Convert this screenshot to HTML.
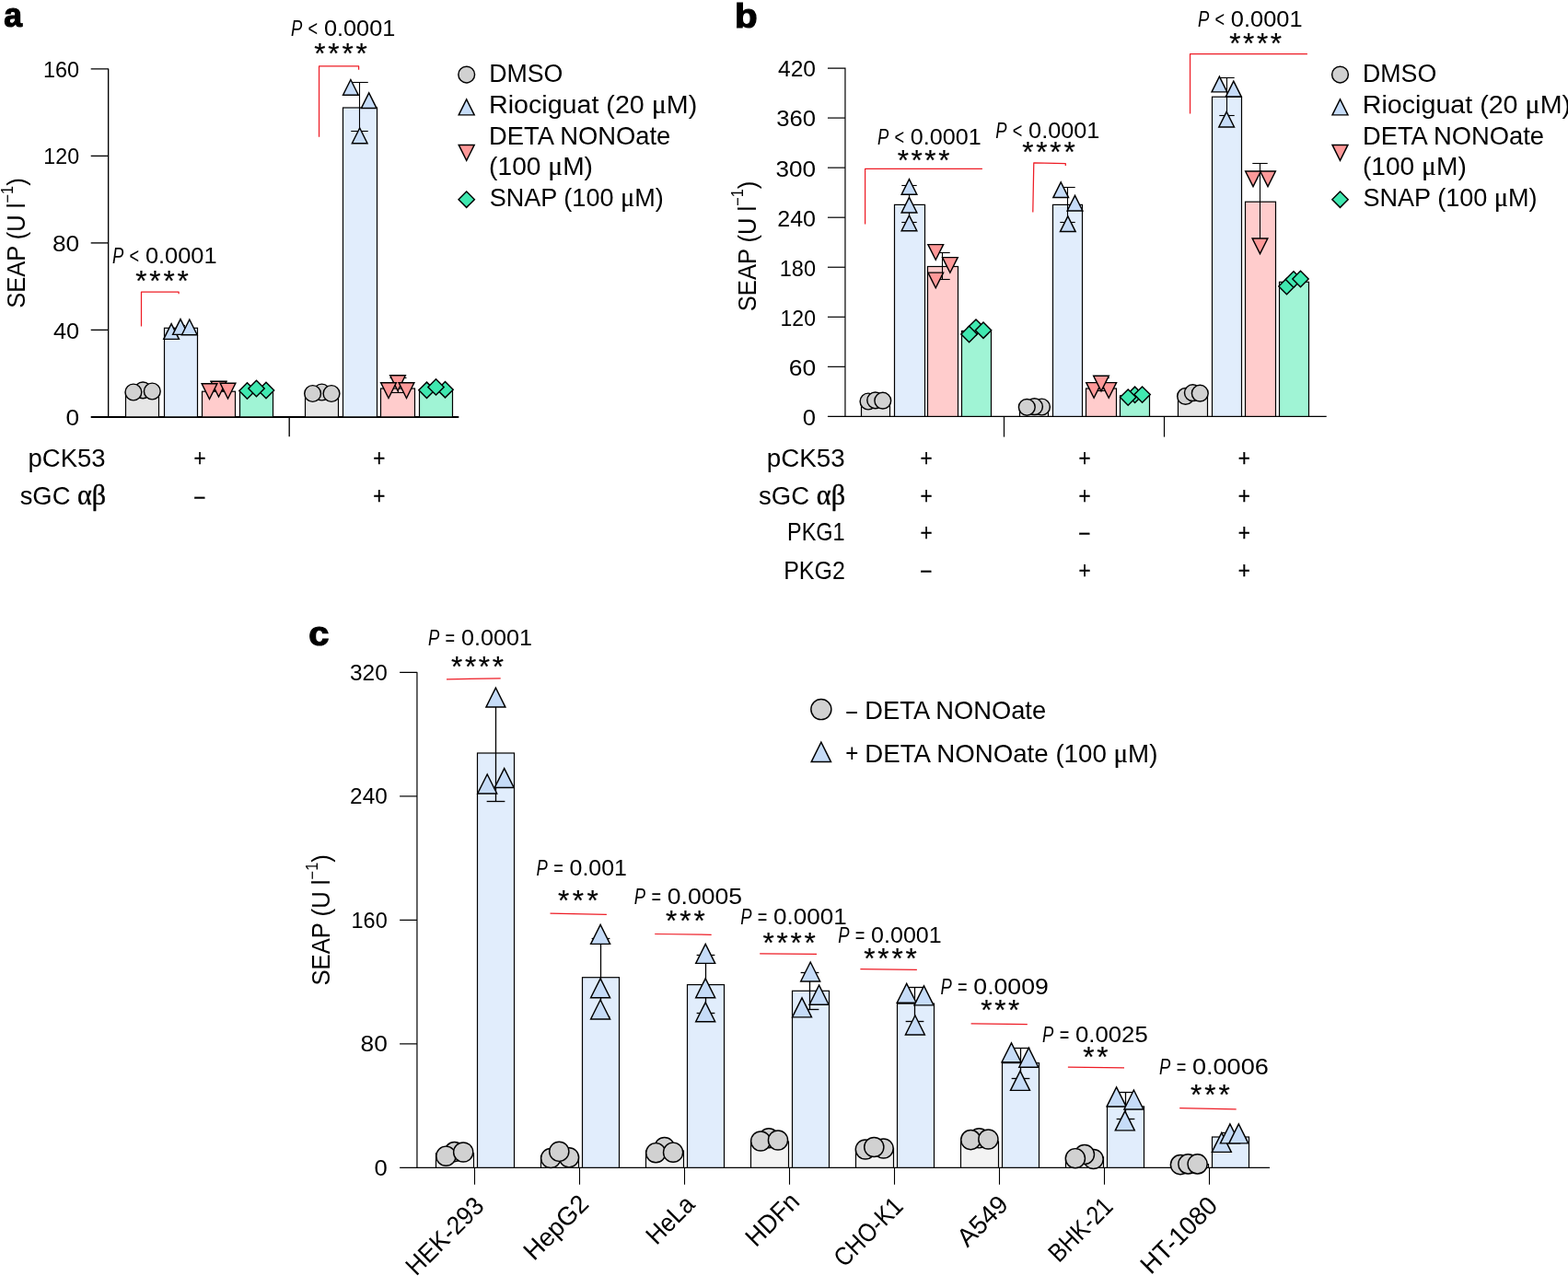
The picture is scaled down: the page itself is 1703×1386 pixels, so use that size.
<!DOCTYPE html>
<html lang="en">
<head>
<meta charset="utf-8">
<title>Figure</title>
<style>
html,body{margin:0;padding:0;background:#fff;overflow:hidden;}
svg{display:block;}
text{font-family:"Liberation Sans",sans-serif;fill:#000;}
</style>
</head>
<body>
<svg width="1703" height="1386" viewBox="0 0 1703 1386">
<rect width="1703" height="1386" fill="#fff"/>
<text transform="translate(4.33 29) scale(0.9470 1)" font-size="37.5" stroke="#000" stroke-width="1.2" stroke-linejoin="miter"><tspan font-weight="bold">a</tspan></text>
<path d="M98.7,74.9 H117.65 V452.9" fill="none" stroke="#000" stroke-width="1.35" stroke-linejoin="round"/>
<line x1="98.7" y1="453" x2="498.3" y2="453" stroke="#000" stroke-width="1.9"/>
<text transform="translate(46.94 83.5) scale(0.9620 1)" font-size="24.4">160</text>
<line x1="98.7" y1="169.4" x2="117.65" y2="169.4" stroke="#000" stroke-width="1.35"/>
<text transform="translate(47.36 178.2) scale(0.9515 1)" font-size="24.4">120</text>
<line x1="98.7" y1="263.9" x2="117.65" y2="263.9" stroke="#000" stroke-width="1.35"/>
<text transform="translate(56.92 273.2) scale(1.0783 1)" font-size="24.4">80</text>
<line x1="98.7" y1="358.4" x2="117.65" y2="358.4" stroke="#000" stroke-width="1.35"/>
<text transform="translate(57.99 367.5) scale(1.0372 1)" font-size="24.4">40</text>
<text transform="translate(71.55 462.2) scale(1.0758 1)" font-size="24.4">0</text>
<line x1="314.2" y1="452.9" x2="314.2" y2="474.2" stroke="#000" stroke-width="1.35"/>
<text transform="translate(27 334.85) rotate(-90) scale(0.9116 1)" font-size="28">SEAP (U l<tspan font-size="64%" dy="-13.5">−1</tspan><tspan dy="13.5">)</tspan></text>
<rect x="136.5" y="426.7" width="36" height="26.2" fill="#e6e6e6" stroke="#000" stroke-width="1.2"/>
<rect x="178.5" y="356.3" width="36" height="96.6" fill="#e1edfc" stroke="#000" stroke-width="1.2"/>
<rect x="219.5" y="425.2" width="36" height="27.7" fill="#ffcccc" stroke="#000" stroke-width="1.2"/>
<rect x="260.5" y="423.7" width="36" height="29.2" fill="#a0f4d5" stroke="#000" stroke-width="1.2"/>
<rect x="331.5" y="426.7" width="36" height="26.2" fill="#e6e6e6" stroke="#000" stroke-width="1.2"/>
<rect x="372.5" y="117" width="37" height="335.9" fill="#e1edfc" stroke="#000" stroke-width="1.2"/>
<rect x="413.5" y="422" width="37" height="30.9" fill="#ffcccc" stroke="#000" stroke-width="1.2"/>
<rect x="455.5" y="423" width="36" height="29.9" fill="#a0f4d5" stroke="#000" stroke-width="1.2"/>
<circle cx="155.2" cy="423.8" r="8.88" fill="#d1d1d1" stroke="#000" stroke-width="1.45"/>
<circle cx="144.9" cy="426" r="8.88" fill="#d1d1d1" stroke="#000" stroke-width="1.45"/>
<circle cx="165.3" cy="425" r="8.88" fill="#d1d1d1" stroke="#000" stroke-width="1.45"/>
<line x1="196.5" y1="353.5" x2="196.5" y2="358.5" stroke="#000" stroke-width="1.1"/>
<line x1="192" y1="353.5" x2="201" y2="353.5" stroke="#000" stroke-width="1.1"/>
<line x1="192" y1="358.5" x2="201" y2="358.5" stroke="#000" stroke-width="1.1"/>
<polygon points="177.77,368.36 194.43,368.36 186.1,351.7" fill="#c6dcf8" stroke="#000" stroke-width="1.45" stroke-linejoin="miter" stroke-miterlimit="10"/>
<polygon points="187.67,363.36 204.33,363.36 196,346.7" fill="#c6dcf8" stroke="#000" stroke-width="1.45" stroke-linejoin="miter" stroke-miterlimit="10"/>
<polygon points="197.47,363.66 214.13,363.66 205.8,347" fill="#c6dcf8" stroke="#000" stroke-width="1.45" stroke-linejoin="miter" stroke-miterlimit="10"/>
<line x1="237.5" y1="414.5" x2="237.5" y2="424.5" stroke="#000" stroke-width="1.1"/>
<line x1="228.5" y1="414.5" x2="246.5" y2="414.5" stroke="#000" stroke-width="1.1"/>
<line x1="228.5" y1="424.5" x2="246.5" y2="424.5" stroke="#000" stroke-width="1.1"/>
<polygon points="229.17,414.3 245.83,414.3 237.5,430.95" fill="#ff9999" stroke="#000" stroke-width="1.45" stroke-linejoin="miter" stroke-miterlimit="10"/>
<polygon points="219.17,416.8 235.83,416.8 227.5,433.45" fill="#ff9999" stroke="#000" stroke-width="1.45" stroke-linejoin="miter" stroke-miterlimit="10"/>
<polygon points="239.17,416.3 255.83,416.3 247.5,432.95" fill="#ff9999" stroke="#000" stroke-width="1.45" stroke-linejoin="miter" stroke-miterlimit="10"/>
<polygon points="259.83,424.5 268.5,415.83 277.17,424.5 268.5,433.17" fill="#40e8b0" stroke="#000" stroke-width="1.45" stroke-linejoin="miter" stroke-miterlimit="10"/>
<polygon points="280.33,424 289,415.33 297.67,424 289,432.67" fill="#40e8b0" stroke="#000" stroke-width="1.45" stroke-linejoin="miter" stroke-miterlimit="10"/>
<polygon points="269.83,422 278.5,413.33 287.17,422 278.5,430.67" fill="#40e8b0" stroke="#000" stroke-width="1.45" stroke-linejoin="miter" stroke-miterlimit="10"/>
<circle cx="349.5" cy="426" r="8.88" fill="#d1d1d1" stroke="#000" stroke-width="1.45"/>
<circle cx="339.6" cy="427.5" r="8.88" fill="#d1d1d1" stroke="#000" stroke-width="1.45"/>
<circle cx="360" cy="427.5" r="8.88" fill="#d1d1d1" stroke="#000" stroke-width="1.45"/>
<line x1="390.5" y1="89.5" x2="390.5" y2="142.5" stroke="#000" stroke-width="1.1"/>
<line x1="381.25" y1="89.5" x2="399.75" y2="89.5" stroke="#000" stroke-width="1.1"/>
<line x1="381.25" y1="142.5" x2="399.75" y2="142.5" stroke="#000" stroke-width="1.1"/>
<polygon points="372.57,103.16 389.23,103.16 380.9,86.51" fill="#c6dcf8" stroke="#000" stroke-width="1.45" stroke-linejoin="miter" stroke-miterlimit="10"/>
<polygon points="392.37,117.56 409.03,117.56 400.7,100.91" fill="#c6dcf8" stroke="#000" stroke-width="1.45" stroke-linejoin="miter" stroke-miterlimit="10"/>
<polygon points="382.37,155.66 399.03,155.66 390.7,139" fill="#c6dcf8" stroke="#000" stroke-width="1.45" stroke-linejoin="miter" stroke-miterlimit="10"/>
<line x1="432.5" y1="410.5" x2="432.5" y2="426.5" stroke="#000" stroke-width="1.1"/>
<line x1="423.5" y1="410.5" x2="441.5" y2="410.5" stroke="#000" stroke-width="1.1"/>
<line x1="423.5" y1="426.5" x2="441.5" y2="426.5" stroke="#000" stroke-width="1.1"/>
<polygon points="423.67,407.8 440.33,407.8 432,424.45" fill="#ff9999" stroke="#000" stroke-width="1.45" stroke-linejoin="miter" stroke-miterlimit="10"/>
<polygon points="413.67,415.8 430.33,415.8 422,432.45" fill="#ff9999" stroke="#000" stroke-width="1.45" stroke-linejoin="miter" stroke-miterlimit="10"/>
<polygon points="433.17,415.8 449.83,415.8 441.5,432.45" fill="#ff9999" stroke="#000" stroke-width="1.45" stroke-linejoin="miter" stroke-miterlimit="10"/>
<polygon points="454.83,423.8 463.5,415.13 472.17,423.8 463.5,432.47" fill="#40e8b0" stroke="#000" stroke-width="1.45" stroke-linejoin="miter" stroke-miterlimit="10"/>
<polygon points="474.83,423.2 483.5,414.53 492.17,423.2 483.5,431.87" fill="#40e8b0" stroke="#000" stroke-width="1.45" stroke-linejoin="miter" stroke-miterlimit="10"/>
<polygon points="464.83,420.4 473.5,411.73 482.17,420.4 473.5,429.07" fill="#40e8b0" stroke="#000" stroke-width="1.45" stroke-linejoin="miter" stroke-miterlimit="10"/>
<polyline points="346.55,148.8 346.55,71.9 389.6,71.9 389.6,75.8" fill="none" stroke="#ee1c25" stroke-width="1.25" stroke-linejoin="round"/>
<g>
<text transform="translate(315.95 39) scale(0.8006 1)" font-size="23"><tspan font-style="italic">P</tspan></text>
<text transform="translate(334.59 39) scale(0.7889 1)" font-size="23">&lt;</text>
<text transform="translate(351.89 39) scale(1.1019 1)" font-size="23">0.0001</text>
</g>
<text x="341.23" y="69.34" font-size="31.5" letter-spacing="2.83" stroke="#000" stroke-width="0.2">****</text>
<polyline points="153.5,354.4 153.5,317 194.1,317 194.1,319.2" fill="none" stroke="#ee1c25" stroke-width="1.25" stroke-linejoin="round"/>
<g>
<text transform="translate(121.95 285.8) scale(0.8006 1)" font-size="23"><tspan font-style="italic">P</tspan></text>
<text transform="translate(140.59 285.8) scale(0.7889 1)" font-size="23">&lt;</text>
<text transform="translate(157.88 285.8) scale(1.1049 1)" font-size="23">0.0001</text>
</g>
<text x="147.13" y="316.24" font-size="31.5" letter-spacing="2.9" stroke="#000" stroke-width="0.2">****</text>
<text transform="translate(30.56 506.7) scale(0.9824 1)" font-size="28">pCK53</text>
<text transform="translate(21.68 547.7) scale(0.9772 1)" font-size="28">sGC <tspan font-family="Liberation Serif, serif" stroke="#000" stroke-width="0.4" font-size="110%">αβ</tspan></text>
<text transform="translate(210.38 505.9) scale(0.8813 1)" font-size="25.5" stroke="#000" stroke-width="0.3" stroke-linejoin="miter">+</text>
<text transform="translate(405.13 505.9) scale(0.8813 1)" font-size="25.5" stroke="#000" stroke-width="0.3" stroke-linejoin="miter">+</text>
<text transform="translate(210.26 548.5) scale(0.8975 1)" font-size="25.5" stroke="#000" stroke-width="0.3" stroke-linejoin="miter">−</text>
<text transform="translate(405.13 547.3) scale(0.8813 1)" font-size="25.5" stroke="#000" stroke-width="0.3" stroke-linejoin="miter">+</text>
<circle cx="506.7" cy="81.05" r="8.88" fill="#d1d1d1" stroke="#000" stroke-width="1.45"/>
<polygon points="498.22,124.86 515.18,124.86 506.7,107.91" fill="#c6dcf8" stroke="#000" stroke-width="1.45" stroke-linejoin="miter" stroke-miterlimit="10"/>
<polygon points="498.22,157.4 515.18,157.4 506.7,174.35" fill="#ff9999" stroke="#000" stroke-width="1.45" stroke-linejoin="miter" stroke-miterlimit="10"/>
<polygon points="498.03,216.7 506.7,208.03 515.37,216.7 506.7,225.37" fill="#40e8b0" stroke="#000" stroke-width="1.45" stroke-linejoin="miter" stroke-miterlimit="10"/>
<text transform="translate(531.16 88.5) scale(0.9557 1)" font-size="28">DMSO</text>
<text transform="translate(531.01 123.4) scale(1.0234 1)" font-size="28">Riociguat (20 <tspan font-family="Liberation Serif, serif" stroke="#000" stroke-width="0.2" font-size="105%">μ</tspan>M)</text>
<text transform="translate(531.11 157.1) scale(0.9776 1)" font-size="28">DETA NONOate</text>
<text transform="translate(531.11 190.4) scale(1.0060 1)" font-size="28">(100 <tspan font-family="Liberation Serif, serif" stroke="#000" stroke-width="0.2" font-size="105%">μ</tspan>M)</text>
<text transform="translate(531.68 224) scale(0.9668 1)" font-size="28">SNAP (100 <tspan font-family="Liberation Serif, serif" stroke="#000" stroke-width="0.2" font-size="105%">μ</tspan>M)</text>
<text transform="translate(798.07 29.5) scale(1.0918 1)" font-size="37" stroke="#000" stroke-width="1.2" stroke-linejoin="miter"><tspan font-weight="bold">b</tspan></text>
<path d="M898.95,74.05 H917.95 V452.4" fill="none" stroke="#000" stroke-width="1.2" stroke-linejoin="miter"/>
<line x1="898.95" y1="452.4" x2="1440.7" y2="452.4" stroke="#000" stroke-width="1.2"/>
<text transform="translate(845.01 82.6) scale(1.0080 1)" font-size="24.4">420</text>
<line x1="898.95" y1="128.1" x2="917.95" y2="128.1" stroke="#000" stroke-width="1.2"/>
<text transform="translate(843.27 136.6) scale(1.0517 1)" font-size="24.4">360</text>
<line x1="898.95" y1="182.15" x2="917.95" y2="182.15" stroke="#000" stroke-width="1.2"/>
<text transform="translate(842.45 191.6) scale(1.0723 1)" font-size="24.4">300</text>
<line x1="898.95" y1="236.2" x2="917.95" y2="236.2" stroke="#000" stroke-width="1.2"/>
<text transform="translate(844.25 245.6) scale(1.0272 1)" font-size="24.4">240</text>
<line x1="898.95" y1="290.25" x2="917.95" y2="290.25" stroke="#000" stroke-width="1.2"/>
<text transform="translate(846.73 299.6) scale(0.9646 1)" font-size="24.4">180</text>
<line x1="898.95" y1="344.3" x2="917.95" y2="344.3" stroke="#000" stroke-width="1.2"/>
<text transform="translate(847.57 353.6) scale(0.9435 1)" font-size="24.4">120</text>
<line x1="898.95" y1="398.35" x2="917.95" y2="398.35" stroke="#000" stroke-width="1.2"/>
<text transform="translate(856.68 407.6) scale(1.0836 1)" font-size="24.4">60</text>
<text transform="translate(871.77 461.6) scale(1.0502 1)" font-size="24.4">0</text>
<line x1="1090.5" y1="452.4" x2="1090.5" y2="474.6" stroke="#000" stroke-width="1.2"/>
<line x1="1264.5" y1="452.4" x2="1264.5" y2="474.6" stroke="#000" stroke-width="1.2"/>
<text transform="translate(820.8 338.15) rotate(-90) scale(0.9116 1)" font-size="28">SEAP (U l<tspan font-size="64%" dy="-13.5">−1</tspan><tspan dy="13.5">)</tspan></text>
<rect x="935.5" y="436" width="31" height="16.4" fill="#e6e6e6" stroke="#000" stroke-width="1.2"/>
<rect x="971.5" y="222.4" width="33" height="230" fill="#e1edfc" stroke="#000" stroke-width="1.2"/>
<rect x="1007.5" y="289.5" width="33" height="162.9" fill="#ffcccc" stroke="#000" stroke-width="1.2"/>
<rect x="1044.5" y="359.5" width="32" height="92.9" fill="#a0f4d5" stroke="#000" stroke-width="1.2"/>
<rect x="1107.5" y="441" width="31" height="11.4" fill="#e6e6e6" stroke="#000" stroke-width="1.2"/>
<rect x="1143.5" y="222.4" width="32" height="230" fill="#e1edfc" stroke="#000" stroke-width="1.2"/>
<rect x="1179.5" y="422" width="33" height="30.4" fill="#ffcccc" stroke="#000" stroke-width="1.2"/>
<rect x="1216.5" y="429.8" width="32" height="22.6" fill="#a0f4d5" stroke="#000" stroke-width="1.2"/>
<rect x="1279.5" y="431.4" width="32" height="21" fill="#e6e6e6" stroke="#000" stroke-width="1.2"/>
<rect x="1316.5" y="105.2" width="32" height="347.2" fill="#e1edfc" stroke="#000" stroke-width="1.2"/>
<rect x="1352.5" y="219.2" width="33" height="233.2" fill="#ffcccc" stroke="#000" stroke-width="1.2"/>
<rect x="1389.5" y="306.3" width="32" height="146.1" fill="#a0f4d5" stroke="#000" stroke-width="1.2"/>
<circle cx="943" cy="436" r="8.88" fill="#d1d1d1" stroke="#000" stroke-width="1.45"/>
<circle cx="950.7" cy="434.8" r="8.88" fill="#d1d1d1" stroke="#000" stroke-width="1.45"/>
<circle cx="958.8" cy="435.2" r="8.88" fill="#d1d1d1" stroke="#000" stroke-width="1.45"/>
<line x1="987.5" y1="201.5" x2="987.5" y2="241.5" stroke="#000" stroke-width="1.1"/>
<line x1="979.3" y1="201.5" x2="995.7" y2="201.5" stroke="#000" stroke-width="1.1"/>
<line x1="979.3" y1="241.5" x2="995.7" y2="241.5" stroke="#000" stroke-width="1.1"/>
<polygon points="979.17,211.26 995.83,211.26 987.5,194.61" fill="#c6dcf8" stroke="#000" stroke-width="1.45" stroke-linejoin="miter" stroke-miterlimit="10"/>
<polygon points="979.17,230.96 995.83,230.96 987.5,214.31" fill="#c6dcf8" stroke="#000" stroke-width="1.45" stroke-linejoin="miter" stroke-miterlimit="10"/>
<polygon points="979.17,250.76 995.83,250.76 987.5,234.11" fill="#c6dcf8" stroke="#000" stroke-width="1.45" stroke-linejoin="miter" stroke-miterlimit="10"/>
<line x1="1023.5" y1="274.5" x2="1023.5" y2="303.5" stroke="#000" stroke-width="1.1"/>
<line x1="1015.3" y1="274.5" x2="1031.7" y2="274.5" stroke="#000" stroke-width="1.1"/>
<line x1="1015.3" y1="303.5" x2="1031.7" y2="303.5" stroke="#000" stroke-width="1.1"/>
<polygon points="1007.92,265.6 1024.58,265.6 1016.25,282.25" fill="#ff9999" stroke="#000" stroke-width="1.45" stroke-linejoin="miter" stroke-miterlimit="10"/>
<polygon points="1023.57,279.6 1040.23,279.6 1031.9,296.25" fill="#ff9999" stroke="#000" stroke-width="1.45" stroke-linejoin="miter" stroke-miterlimit="10"/>
<polygon points="1007.92,296.1 1024.58,296.1 1016.25,312.75" fill="#ff9999" stroke="#000" stroke-width="1.45" stroke-linejoin="miter" stroke-miterlimit="10"/>
<polygon points="1051.33,355.6 1060,346.93 1068.67,355.6 1060,364.27" fill="#40e8b0" stroke="#000" stroke-width="1.45" stroke-linejoin="miter" stroke-miterlimit="10"/>
<polygon points="1043.93,363 1052.6,354.33 1061.27,363 1052.6,371.67" fill="#40e8b0" stroke="#000" stroke-width="1.45" stroke-linejoin="miter" stroke-miterlimit="10"/>
<polygon points="1059.33,358.7 1068,350.03 1076.67,358.7 1068,367.37" fill="#40e8b0" stroke="#000" stroke-width="1.45" stroke-linejoin="miter" stroke-miterlimit="10"/>
<circle cx="1131.5" cy="442" r="8.88" fill="#d1d1d1" stroke="#000" stroke-width="1.45"/>
<circle cx="1123.5" cy="441.7" r="8.88" fill="#d1d1d1" stroke="#000" stroke-width="1.45"/>
<circle cx="1115.3" cy="442.3" r="8.88" fill="#d1d1d1" stroke="#000" stroke-width="1.45"/>
<line x1="1159.5" y1="203.5" x2="1159.5" y2="241.5" stroke="#000" stroke-width="1.1"/>
<line x1="1151.3" y1="203.5" x2="1167.7" y2="203.5" stroke="#000" stroke-width="1.1"/>
<line x1="1151.3" y1="241.5" x2="1167.7" y2="241.5" stroke="#000" stroke-width="1.1"/>
<polygon points="1143.87,214.56 1160.53,214.56 1152.2,197.91" fill="#c6dcf8" stroke="#000" stroke-width="1.45" stroke-linejoin="miter" stroke-miterlimit="10"/>
<polygon points="1159.17,229.01 1175.83,229.01 1167.5,212.36" fill="#c6dcf8" stroke="#000" stroke-width="1.45" stroke-linejoin="miter" stroke-miterlimit="10"/>
<polygon points="1151.47,251.56 1168.13,251.56 1159.8,234.91" fill="#c6dcf8" stroke="#000" stroke-width="1.45" stroke-linejoin="miter" stroke-miterlimit="10"/>
<line x1="1196.5" y1="410.5" x2="1196.5" y2="424.5" stroke="#000" stroke-width="1.1"/>
<line x1="1188.3" y1="410.5" x2="1204.7" y2="410.5" stroke="#000" stroke-width="1.1"/>
<line x1="1188.3" y1="424.5" x2="1204.7" y2="424.5" stroke="#000" stroke-width="1.1"/>
<polygon points="1179.77,415.6 1196.43,415.6 1188.1,432.25" fill="#ff9999" stroke="#000" stroke-width="1.45" stroke-linejoin="miter" stroke-miterlimit="10"/>
<polygon points="1195.87,415.6 1212.53,415.6 1204.2,432.25" fill="#ff9999" stroke="#000" stroke-width="1.45" stroke-linejoin="miter" stroke-miterlimit="10"/>
<polygon points="1187.67,408.2 1204.33,408.2 1196,424.85" fill="#ff9999" stroke="#000" stroke-width="1.45" stroke-linejoin="miter" stroke-miterlimit="10"/>
<polygon points="1223.93,428.8 1232.6,420.13 1241.27,428.8 1232.6,437.47" fill="#40e8b0" stroke="#000" stroke-width="1.45" stroke-linejoin="miter" stroke-miterlimit="10"/>
<polygon points="1216.53,431.6 1225.2,422.93 1233.87,431.6 1225.2,440.27" fill="#40e8b0" stroke="#000" stroke-width="1.45" stroke-linejoin="miter" stroke-miterlimit="10"/>
<polygon points="1231.93,428.6 1240.6,419.93 1249.27,428.6 1240.6,437.27" fill="#40e8b0" stroke="#000" stroke-width="1.45" stroke-linejoin="miter" stroke-miterlimit="10"/>
<circle cx="1287.6" cy="430.4" r="8.88" fill="#d1d1d1" stroke="#000" stroke-width="1.45"/>
<circle cx="1295.4" cy="426.7" r="8.88" fill="#d1d1d1" stroke="#000" stroke-width="1.45"/>
<circle cx="1303.3" cy="427.2" r="8.88" fill="#d1d1d1" stroke="#000" stroke-width="1.45"/>
<line x1="1332.5" y1="84.5" x2="1332.5" y2="125.5" stroke="#000" stroke-width="1.1"/>
<line x1="1324.3" y1="84.5" x2="1340.7" y2="84.5" stroke="#000" stroke-width="1.1"/>
<line x1="1324.3" y1="125.5" x2="1340.7" y2="125.5" stroke="#000" stroke-width="1.1"/>
<polygon points="1316.07,99.86 1332.73,99.86 1324.4,83.21" fill="#c6dcf8" stroke="#000" stroke-width="1.45" stroke-linejoin="miter" stroke-miterlimit="10"/>
<polygon points="1331.47,104.86 1348.13,104.86 1339.8,88.21" fill="#c6dcf8" stroke="#000" stroke-width="1.45" stroke-linejoin="miter" stroke-miterlimit="10"/>
<polygon points="1323.82,137.96 1340.48,137.96 1332.15,121.31" fill="#c6dcf8" stroke="#000" stroke-width="1.45" stroke-linejoin="miter" stroke-miterlimit="10"/>
<line x1="1368.5" y1="177.5" x2="1368.5" y2="260.5" stroke="#000" stroke-width="1.1"/>
<line x1="1360.3" y1="177.5" x2="1376.7" y2="177.5" stroke="#000" stroke-width="1.1"/>
<polygon points="1352.67,186 1369.33,186 1361,202.65" fill="#ff9999" stroke="#000" stroke-width="1.45" stroke-linejoin="miter" stroke-miterlimit="10"/>
<polygon points="1368.67,186 1385.33,186 1377,202.65" fill="#ff9999" stroke="#000" stroke-width="1.45" stroke-linejoin="miter" stroke-miterlimit="10"/>
<polygon points="1360.17,259 1376.83,259 1368.5,275.65" fill="#ff9999" stroke="#000" stroke-width="1.45" stroke-linejoin="miter" stroke-miterlimit="10"/>
<polygon points="1388.83,311 1397.5,302.33 1406.17,311 1397.5,319.67" fill="#40e8b0" stroke="#000" stroke-width="1.45" stroke-linejoin="miter" stroke-miterlimit="10"/>
<polygon points="1396.33,303.5 1405,294.83 1413.67,303.5 1405,312.17" fill="#40e8b0" stroke="#000" stroke-width="1.45" stroke-linejoin="miter" stroke-miterlimit="10"/>
<polygon points="1403.83,303 1412.5,294.33 1421.17,303 1412.5,311.67" fill="#40e8b0" stroke="#000" stroke-width="1.45" stroke-linejoin="miter" stroke-miterlimit="10"/>
<polyline points="939.6,243.4 939.6,183.35 1066.9,183.35" fill="none" stroke="#ee1c25" stroke-width="1.25" stroke-linejoin="round"/>
<g>
<text transform="translate(952.9 156.8) scale(0.8006 1)" font-size="23"><tspan font-style="italic">P</tspan></text>
<text transform="translate(971.54 156.8) scale(0.7889 1)" font-size="23">&lt;</text>
<text transform="translate(988.84 156.8) scale(1.0946 1)" font-size="23">0.0001</text>
</g>
<text x="974.63" y="184.63" font-size="31.5" letter-spacing="2.61" stroke="#000" stroke-width="0.2">****</text>
<polyline points="1121.8,230.6 1122.8,176.9 1157.3,177.7 1157.3,180.1" fill="none" stroke="#ee1c25" stroke-width="1.25" stroke-linejoin="round"/>
<g>
<text transform="translate(1081.15 150.05) scale(0.8006 1)" font-size="23"><tspan font-style="italic">P</tspan></text>
<text transform="translate(1099.79 150.05) scale(0.7889 1)" font-size="23">&lt;</text>
<text transform="translate(1117.09 150.05) scale(1.0990 1)" font-size="23">0.0001</text>
</g>
<text x="1110.33" y="175.54" font-size="31.5" letter-spacing="2.76" stroke="#000" stroke-width="0.2">****</text>
<polyline points="1292.55,123.45 1292.55,58.5 1419.9,58.5" fill="none" stroke="#ee1c25" stroke-width="1.25" stroke-linejoin="round"/>
<g>
<text transform="translate(1300.92 28.75) scale(0.8006 1)" font-size="23"><tspan font-style="italic">P</tspan></text>
<text transform="translate(1319.56 28.75) scale(0.7889 1)" font-size="23">&lt;</text>
<text transform="translate(1336.85 28.75) scale(1.1047 1)" font-size="23">0.0001</text>
</g>
<text x="1335.23" y="57.63" font-size="31.5" letter-spacing="2.58" stroke="#000" stroke-width="0.2">****</text>
<text transform="translate(832.79 506.7) scale(0.9927 1)" font-size="28">pCK53</text>
<text transform="translate(824.07 547.7) scale(0.9836 1)" font-size="28">sGC <tspan font-family="Liberation Serif, serif" stroke="#000" stroke-width="0.4" font-size="110%">αβ</tspan></text>
<text transform="translate(855.03 587.4) scale(0.8366 1)" font-size="28">PKG1</text>
<text transform="translate(851.2 628.9) scale(0.8932 1)" font-size="28">PKG2</text>
<text transform="translate(999.43 505.9) scale(0.8813 1)" font-size="25.5" stroke="#000" stroke-width="0.3" stroke-linejoin="miter">+</text>
<text transform="translate(1171.43 505.9) scale(0.8813 1)" font-size="25.5" stroke="#000" stroke-width="0.3" stroke-linejoin="miter">+</text>
<text transform="translate(1344.63 505.9) scale(0.8813 1)" font-size="25.5" stroke="#000" stroke-width="0.3" stroke-linejoin="miter">+</text>
<text transform="translate(999.43 547.4) scale(0.8813 1)" font-size="25.5" stroke="#000" stroke-width="0.3" stroke-linejoin="miter">+</text>
<text transform="translate(1171.43 547.4) scale(0.8813 1)" font-size="25.5" stroke="#000" stroke-width="0.3" stroke-linejoin="miter">+</text>
<text transform="translate(1344.63 547.4) scale(0.8813 1)" font-size="25.5" stroke="#000" stroke-width="0.3" stroke-linejoin="miter">+</text>
<text transform="translate(999.43 587.2) scale(0.8813 1)" font-size="25.5" stroke="#000" stroke-width="0.3" stroke-linejoin="miter">+</text>
<text transform="translate(1171.31 587.9) scale(0.8975 1)" font-size="25.5" stroke="#000" stroke-width="0.3" stroke-linejoin="miter">−</text>
<text transform="translate(1344.63 587.2) scale(0.8813 1)" font-size="25.5" stroke="#000" stroke-width="0.3" stroke-linejoin="miter">+</text>
<text transform="translate(999.31 628.6) scale(0.8975 1)" font-size="25.5" stroke="#000" stroke-width="0.3" stroke-linejoin="miter">−</text>
<text transform="translate(1171.43 627.9) scale(0.8813 1)" font-size="25.5" stroke="#000" stroke-width="0.3" stroke-linejoin="miter">+</text>
<text transform="translate(1344.63 627.9) scale(0.8813 1)" font-size="25.5" stroke="#000" stroke-width="0.3" stroke-linejoin="miter">+</text>
<circle cx="1455.5" cy="81.05" r="8.88" fill="#d1d1d1" stroke="#000" stroke-width="1.45"/>
<polygon points="1447.02,124.86 1463.98,124.86 1455.5,107.91" fill="#c6dcf8" stroke="#000" stroke-width="1.45" stroke-linejoin="miter" stroke-miterlimit="10"/>
<polygon points="1447.02,157.4 1463.98,157.4 1455.5,174.35" fill="#ff9999" stroke="#000" stroke-width="1.45" stroke-linejoin="miter" stroke-miterlimit="10"/>
<polygon points="1446.83,216.7 1455.5,208.03 1464.17,216.7 1455.5,225.37" fill="#40e8b0" stroke="#000" stroke-width="1.45" stroke-linejoin="miter" stroke-miterlimit="10"/>
<text transform="translate(1479.96 88.5) scale(0.9557 1)" font-size="28">DMSO</text>
<text transform="translate(1479.81 123.4) scale(1.0234 1)" font-size="28">Riociguat (20 <tspan font-family="Liberation Serif, serif" stroke="#000" stroke-width="0.2" font-size="105%">μ</tspan>M)</text>
<text transform="translate(1479.91 157.1) scale(0.9776 1)" font-size="28">DETA NONOate</text>
<text transform="translate(1479.91 190.4) scale(1.0060 1)" font-size="28">(100 <tspan font-family="Liberation Serif, serif" stroke="#000" stroke-width="0.2" font-size="105%">μ</tspan>M)</text>
<text transform="translate(1480.48 224) scale(0.9668 1)" font-size="28">SNAP (100 <tspan font-family="Liberation Serif, serif" stroke="#000" stroke-width="0.2" font-size="105%">μ</tspan>M)</text>
<text transform="translate(335.21 701.4) scale(1.0755 1)" font-size="37" stroke="#000" stroke-width="1.2" stroke-linejoin="miter"><tspan font-weight="bold">c</tspan></text>
<path d="M434.1,730.4 H452.95 V1268.35" fill="none" stroke="#000" stroke-width="1.2" stroke-linejoin="round"/>
<line x1="434.1" y1="1268.35" x2="1379" y2="1268.35" stroke="#000" stroke-width="1.2"/>
<text transform="translate(380.02 739.3) scale(1.0001 1)" font-size="24.4">320</text>
<line x1="434.1" y1="864.89" x2="452.95" y2="864.89" stroke="#000" stroke-width="1.2"/>
<text transform="translate(380.08 873.3) scale(0.9987 1)" font-size="24.4">240</text>
<line x1="434.1" y1="999.38" x2="452.95" y2="999.38" stroke="#000" stroke-width="1.2"/>
<text transform="translate(381.54 1008.3) scale(0.9620 1)" font-size="24.4">160</text>
<line x1="434.1" y1="1133.86" x2="452.95" y2="1133.86" stroke="#000" stroke-width="1.2"/>
<text transform="translate(391.52 1142.3) scale(1.0783 1)" font-size="24.4">80</text>
<text transform="translate(406.48 1277.3) scale(1.0502 1)" font-size="24.4">0</text>
<text transform="translate(358 1070.56) rotate(-90) scale(0.9169 1)" font-size="28">SEAP (U l<tspan font-size="64%" dy="-13.5">−1</tspan><tspan dy="13.5">)</tspan></text>
<line x1="515.5" y1="1268.35" x2="515.5" y2="1286.7" stroke="#000" stroke-width="1.1"/>
<rect x="473.5" y="1252.8" width="41" height="15.55" fill="#f3f3f3" stroke="#000" stroke-width="1.2"/>
<rect x="518.5" y="818" width="40" height="450.35" fill="#e1edfc" stroke="#000" stroke-width="1.2"/>
<line x1="538.5" y1="764.5" x2="538.5" y2="870.5" stroke="#000" stroke-width="1.3"/>
<line x1="528.65" y1="870.5" x2="548.35" y2="870.5" stroke="#000" stroke-width="1.3"/>
<circle cx="493.6" cy="1251.1" r="10.58" fill="#d1d1d1" stroke="#000" stroke-width="1.45"/>
<circle cx="484.4" cy="1255.7" r="10.58" fill="#d1d1d1" stroke="#000" stroke-width="1.45"/>
<circle cx="503.2" cy="1251.5" r="10.58" fill="#d1d1d1" stroke="#000" stroke-width="1.45"/>
<polygon points="527.92,768.06 548.88,768.06 538.4,747.11" fill="#c6dcf8" stroke="#000" stroke-width="1.45" stroke-linejoin="miter" stroke-miterlimit="10"/>
<polygon points="518.72,861.96 539.68,861.96 529.2,841" fill="#c6dcf8" stroke="#000" stroke-width="1.45" stroke-linejoin="miter" stroke-miterlimit="10"/>
<polygon points="537.22,855.56 558.18,855.56 547.7,834.61" fill="#c6dcf8" stroke="#000" stroke-width="1.45" stroke-linejoin="miter" stroke-miterlimit="10"/>
<text transform="translate(526.5 1312.4) rotate(-45) scale(0.9357 1)" x="-112.42" font-size="28">HEK-293</text>
<line x1="485" y1="737.9" x2="543.7" y2="736.8" stroke="#ee1c25" stroke-width="1.25"/>
<text x="489.93" y="734.94" font-size="31.5" letter-spacing="2.7" stroke="#000" stroke-width="0.2">****</text>
<g>
<text transform="translate(464.95 700.6) scale(0.8006 1)" font-size="23"><tspan font-style="italic">P</tspan></text>
<text transform="translate(483.59 700.6) scale(0.7889 1)" font-size="23">=</text>
<text transform="translate(500.89 700.6) scale(1.0961 1)" font-size="23">0.0001</text>
</g>
<line x1="629.5" y1="1268.35" x2="629.5" y2="1286.7" stroke="#000" stroke-width="1.1"/>
<rect x="587.5" y="1255.4" width="41" height="12.95" fill="#f3f3f3" stroke="#000" stroke-width="1.2"/>
<rect x="632.5" y="1061.7" width="40" height="206.65" fill="#e1edfc" stroke="#000" stroke-width="1.2"/>
<line x1="652.5" y1="1019.5" x2="652.5" y2="1104.5" stroke="#000" stroke-width="1.3"/>
<line x1="642.65" y1="1019.5" x2="662.35" y2="1019.5" stroke="#000" stroke-width="1.3"/>
<line x1="642.65" y1="1104.5" x2="662.35" y2="1104.5" stroke="#000" stroke-width="1.3"/>
<circle cx="598.2" cy="1258" r="10.58" fill="#d1d1d1" stroke="#000" stroke-width="1.45"/>
<circle cx="618" cy="1257.3" r="10.58" fill="#d1d1d1" stroke="#000" stroke-width="1.45"/>
<circle cx="607.3" cy="1250.8" r="10.58" fill="#d1d1d1" stroke="#000" stroke-width="1.45"/>
<polygon points="641.62,1025.36 662.58,1025.36 652.1,1004.4" fill="#c6dcf8" stroke="#000" stroke-width="1.45" stroke-linejoin="miter" stroke-miterlimit="10"/>
<polygon points="641.62,1083.76 662.58,1083.76 652.1,1062.81" fill="#c6dcf8" stroke="#000" stroke-width="1.45" stroke-linejoin="miter" stroke-miterlimit="10"/>
<polygon points="641.62,1106.96 662.58,1106.96 652.1,1086" fill="#c6dcf8" stroke="#000" stroke-width="1.45" stroke-linejoin="miter" stroke-miterlimit="10"/>
<text transform="translate(640 1310.3) rotate(-45) scale(0.9732 1)" x="-87.22" font-size="28">HepG2</text>
<line x1="597.5" y1="992.2" x2="658.9" y2="993.4" stroke="#ee1c25" stroke-width="1.25"/>
<text x="605.93" y="988.74" font-size="31.5" letter-spacing="3.47" stroke="#000" stroke-width="0.2">***</text>
<g>
<text transform="translate(582.55 950.7) scale(0.8006 1)" font-size="23"><tspan font-style="italic">P</tspan></text>
<text transform="translate(601.19 950.7) scale(0.7889 1)" font-size="23">=</text>
<text transform="translate(618.5 950.7) scale(1.0856 1)" font-size="23">0.001</text>
</g>
<line x1="743.5" y1="1268.35" x2="743.5" y2="1286.7" stroke="#000" stroke-width="1.1"/>
<rect x="701.5" y="1250" width="41" height="18.35" fill="#f3f3f3" stroke="#000" stroke-width="1.2"/>
<rect x="746.5" y="1069.6" width="40" height="198.75" fill="#e1edfc" stroke="#000" stroke-width="1.2"/>
<line x1="766.5" y1="1037.5" x2="766.5" y2="1100.5" stroke="#000" stroke-width="1.3"/>
<line x1="756.65" y1="1037.5" x2="776.35" y2="1037.5" stroke="#000" stroke-width="1.3"/>
<line x1="756.65" y1="1100.5" x2="776.35" y2="1100.5" stroke="#000" stroke-width="1.3"/>
<circle cx="721.7" cy="1246" r="10.58" fill="#d1d1d1" stroke="#000" stroke-width="1.45"/>
<circle cx="712.3" cy="1252.2" r="10.58" fill="#d1d1d1" stroke="#000" stroke-width="1.45"/>
<circle cx="731.1" cy="1251.7" r="10.58" fill="#d1d1d1" stroke="#000" stroke-width="1.45"/>
<polygon points="755.72,1046.36 776.68,1046.36 766.2,1025.4" fill="#c6dcf8" stroke="#000" stroke-width="1.45" stroke-linejoin="miter" stroke-miterlimit="10"/>
<polygon points="755.72,1083.76 776.68,1083.76 766.2,1062.81" fill="#c6dcf8" stroke="#000" stroke-width="1.45" stroke-linejoin="miter" stroke-miterlimit="10"/>
<polygon points="755.72,1109.76 776.68,1109.76 766.2,1088.81" fill="#c6dcf8" stroke="#000" stroke-width="1.45" stroke-linejoin="miter" stroke-miterlimit="10"/>
<text transform="translate(756.2 1309.9) rotate(-45) scale(0.9153 1)" x="-66.92" font-size="28">HeLa</text>
<line x1="711.2" y1="1014.5" x2="772.7" y2="1015.3" stroke="#ee1c25" stroke-width="1.25"/>
<text x="722.93" y="1010.94" font-size="31.5" letter-spacing="3.07" stroke="#000" stroke-width="0.2">***</text>
<g>
<text transform="translate(688.85 981.5) scale(0.8006 1)" font-size="23"><tspan font-style="italic">P</tspan></text>
<text transform="translate(707.49 981.5) scale(0.7889 1)" font-size="23">=</text>
<text transform="translate(724.74 981.5) scale(1.1555 1)" font-size="23">0.0005</text>
</g>
<line x1="857.5" y1="1268.35" x2="857.5" y2="1286.7" stroke="#000" stroke-width="1.1"/>
<rect x="815.5" y="1240" width="41" height="28.35" fill="#f3f3f3" stroke="#000" stroke-width="1.2"/>
<rect x="860.5" y="1076.3" width="40" height="192.05" fill="#e1edfc" stroke="#000" stroke-width="1.2"/>
<line x1="879.5" y1="1056.5" x2="879.5" y2="1096.5" stroke="#000" stroke-width="1.3"/>
<line x1="869.65" y1="1056.5" x2="889.35" y2="1056.5" stroke="#000" stroke-width="1.3"/>
<line x1="869.65" y1="1096.5" x2="889.35" y2="1096.5" stroke="#000" stroke-width="1.3"/>
<circle cx="835" cy="1236.3" r="10.58" fill="#d1d1d1" stroke="#000" stroke-width="1.45"/>
<circle cx="826.2" cy="1239.5" r="10.58" fill="#d1d1d1" stroke="#000" stroke-width="1.45"/>
<circle cx="845" cy="1238.5" r="10.58" fill="#d1d1d1" stroke="#000" stroke-width="1.45"/>
<polygon points="869.72,1065.96 890.68,1065.96 880.2,1045" fill="#c6dcf8" stroke="#000" stroke-width="1.45" stroke-linejoin="miter" stroke-miterlimit="10"/>
<polygon points="860.52,1104.86 881.48,1104.86 871,1083.9" fill="#c6dcf8" stroke="#000" stroke-width="1.45" stroke-linejoin="miter" stroke-miterlimit="10"/>
<polygon points="879.12,1091.16 900.08,1091.16 889.6,1070.2" fill="#c6dcf8" stroke="#000" stroke-width="1.45" stroke-linejoin="miter" stroke-miterlimit="10"/>
<text transform="translate(868.6 1308) rotate(-45) scale(0.9447 1)" x="-71.26" font-size="28">HDFn</text>
<line x1="825.2" y1="1035.9" x2="887" y2="1036.3" stroke="#ee1c25" stroke-width="1.25"/>
<text x="828.53" y="1034.73" font-size="31.5" letter-spacing="2.7" stroke="#000" stroke-width="0.2">****</text>
<g>
<text transform="translate(804.15 1004.2) scale(0.8006 1)" font-size="23"><tspan font-style="italic">P</tspan></text>
<text transform="translate(822.79 1004.2) scale(0.7889 1)" font-size="23">=</text>
<text transform="translate(840.06 1004.2) scale(1.1326 1)" font-size="23">0.0001</text>
</g>
<line x1="971.5" y1="1268.35" x2="971.5" y2="1286.7" stroke="#000" stroke-width="1.1"/>
<rect x="929.5" y="1247.3" width="41" height="21.05" fill="#f3f3f3" stroke="#000" stroke-width="1.2"/>
<rect x="974.5" y="1090.1" width="40" height="178.25" fill="#e1edfc" stroke="#000" stroke-width="1.2"/>
<line x1="993.5" y1="1072.5" x2="993.5" y2="1109.5" stroke="#000" stroke-width="1.3"/>
<line x1="983.65" y1="1072.5" x2="1003.35" y2="1072.5" stroke="#000" stroke-width="1.3"/>
<line x1="983.65" y1="1109.5" x2="1003.35" y2="1109.5" stroke="#000" stroke-width="1.3"/>
<circle cx="939.9" cy="1248.5" r="10.58" fill="#d1d1d1" stroke="#000" stroke-width="1.45"/>
<circle cx="959.6" cy="1247.5" r="10.58" fill="#d1d1d1" stroke="#000" stroke-width="1.45"/>
<circle cx="949.3" cy="1246" r="10.58" fill="#d1d1d1" stroke="#000" stroke-width="1.45"/>
<polygon points="974.22,1089.26 995.18,1089.26 984.7,1068.31" fill="#c6dcf8" stroke="#000" stroke-width="1.45" stroke-linejoin="miter" stroke-miterlimit="10"/>
<polygon points="993.02,1091.86 1013.98,1091.86 1003.5,1070.9" fill="#c6dcf8" stroke="#000" stroke-width="1.45" stroke-linejoin="miter" stroke-miterlimit="10"/>
<polygon points="983.42,1123.96 1004.38,1123.96 993.9,1103" fill="#c6dcf8" stroke="#000" stroke-width="1.45" stroke-linejoin="miter" stroke-miterlimit="10"/>
<text transform="translate(981.6 1312.7) rotate(-45) scale(0.8764 1)" x="-104.44" font-size="28">CHO-K1</text>
<line x1="934.4" y1="1052.7" x2="995.9" y2="1053.4" stroke="#ee1c25" stroke-width="1.25"/>
<text x="938.13" y="1051.93" font-size="31.5" letter-spacing="2.9" stroke="#000" stroke-width="0.2">****</text>
<g>
<text transform="translate(910.15 1024.4) scale(0.8006 1)" font-size="23"><tspan font-style="italic">P</tspan></text>
<text transform="translate(928.79 1024.4) scale(0.7889 1)" font-size="23">=</text>
<text transform="translate(946.1 1024.4) scale(1.0888 1)" font-size="23">0.0001</text>
</g>
<line x1="1085.5" y1="1268.35" x2="1085.5" y2="1286.7" stroke="#000" stroke-width="1.1"/>
<rect x="1043.5" y="1240" width="41" height="28.35" fill="#f3f3f3" stroke="#000" stroke-width="1.2"/>
<rect x="1088.5" y="1154.6" width="40" height="113.75" fill="#e1edfc" stroke="#000" stroke-width="1.2"/>
<line x1="1108.5" y1="1138.5" x2="1108.5" y2="1171.5" stroke="#000" stroke-width="1.3"/>
<line x1="1098.65" y1="1138.5" x2="1118.35" y2="1138.5" stroke="#000" stroke-width="1.3"/>
<line x1="1098.65" y1="1171.5" x2="1118.35" y2="1171.5" stroke="#000" stroke-width="1.3"/>
<circle cx="1063.4" cy="1236.3" r="10.58" fill="#d1d1d1" stroke="#000" stroke-width="1.45"/>
<circle cx="1054.3" cy="1238.1" r="10.58" fill="#d1d1d1" stroke="#000" stroke-width="1.45"/>
<circle cx="1073.4" cy="1237.5" r="10.58" fill="#d1d1d1" stroke="#000" stroke-width="1.45"/>
<polygon points="1088.02,1153.76 1108.98,1153.76 1098.5,1132.81" fill="#c6dcf8" stroke="#000" stroke-width="1.45" stroke-linejoin="miter" stroke-miterlimit="10"/>
<polygon points="1106.82,1159.16 1127.78,1159.16 1117.3,1138.2" fill="#c6dcf8" stroke="#000" stroke-width="1.45" stroke-linejoin="miter" stroke-miterlimit="10"/>
<polygon points="1097.52,1184.36 1118.48,1184.36 1108,1163.4" fill="#c6dcf8" stroke="#000" stroke-width="1.45" stroke-linejoin="miter" stroke-miterlimit="10"/>
<text transform="translate(1095.8 1310.9) rotate(-45) scale(0.9919 1)" x="-64.12" font-size="28">A549</text>
<line x1="1054.6" y1="1111.8" x2="1115.8" y2="1112.7" stroke="#ee1c25" stroke-width="1.25"/>
<text x="1065.23" y="1107.93" font-size="31.5" letter-spacing="2.67" stroke="#000" stroke-width="0.2">***</text>
<g>
<text transform="translate(1021.45 1079.5) scale(0.8006 1)" font-size="23"><tspan font-style="italic">P</tspan></text>
<text transform="translate(1040.09 1079.5) scale(0.7889 1)" font-size="23">=</text>
<text transform="translate(1057.33 1079.5) scale(1.1589 1)" font-size="23">0.0009</text>
</g>
<line x1="1199.5" y1="1268.35" x2="1199.5" y2="1286.7" stroke="#000" stroke-width="1.1"/>
<rect x="1157.5" y="1257" width="41" height="11.35" fill="#f3f3f3" stroke="#000" stroke-width="1.2"/>
<rect x="1202.5" y="1201.9" width="40" height="66.45" fill="#e1edfc" stroke="#000" stroke-width="1.2"/>
<line x1="1222.5" y1="1186.5" x2="1222.5" y2="1215.5" stroke="#000" stroke-width="1.3"/>
<line x1="1212.65" y1="1186.5" x2="1232.35" y2="1186.5" stroke="#000" stroke-width="1.3"/>
<line x1="1212.65" y1="1215.5" x2="1232.35" y2="1215.5" stroke="#000" stroke-width="1.3"/>
<circle cx="1187.6" cy="1259" r="10.58" fill="#d1d1d1" stroke="#000" stroke-width="1.45"/>
<circle cx="1177.9" cy="1254" r="10.58" fill="#d1d1d1" stroke="#000" stroke-width="1.45"/>
<circle cx="1167.9" cy="1258.2" r="10.58" fill="#d1d1d1" stroke="#000" stroke-width="1.45"/>
<polygon points="1202.12,1201.86 1223.08,1201.86 1212.6,1180.9" fill="#c6dcf8" stroke="#000" stroke-width="1.45" stroke-linejoin="miter" stroke-miterlimit="10"/>
<polygon points="1220.92,1204.96 1241.88,1204.96 1231.4,1184" fill="#c6dcf8" stroke="#000" stroke-width="1.45" stroke-linejoin="miter" stroke-miterlimit="10"/>
<polygon points="1211.32,1227.86 1232.28,1227.86 1221.8,1206.9" fill="#c6dcf8" stroke="#000" stroke-width="1.45" stroke-linejoin="miter" stroke-miterlimit="10"/>
<text transform="translate(1209.6 1312.9) rotate(-45) scale(0.8698 1)" x="-96.74" font-size="28">BHK-21</text>
<line x1="1159.9" y1="1159.2" x2="1221" y2="1159.9" stroke="#ee1c25" stroke-width="1.25"/>
<text x="1176.23" y="1158.93" font-size="31.5" letter-spacing="2.8" stroke="#000" stroke-width="0.2">**</text>
<g>
<text transform="translate(1132.05 1132.1) scale(0.8006 1)" font-size="23"><tspan font-style="italic">P</tspan></text>
<text transform="translate(1150.69 1132.1) scale(0.7889 1)" font-size="23">=</text>
<text transform="translate(1167.97 1132.1) scale(1.1205 1)" font-size="23">0.0025</text>
</g>
<line x1="1313.5" y1="1268.35" x2="1313.5" y2="1286.7" stroke="#000" stroke-width="1.1"/>
<rect x="1271.5" y="1264.6" width="41" height="3.75" fill="#f3f3f3" stroke="#000" stroke-width="1.2"/>
<rect x="1316.5" y="1235" width="40" height="33.35" fill="#e1edfc" stroke="#000" stroke-width="1.2"/>
<line x1="1336.5" y1="1230.5" x2="1336.5" y2="1240.5" stroke="#000" stroke-width="1.3"/>
<line x1="1326.65" y1="1230.5" x2="1346.35" y2="1230.5" stroke="#000" stroke-width="1.3"/>
<line x1="1326.65" y1="1240.5" x2="1346.35" y2="1240.5" stroke="#000" stroke-width="1.3"/>
<circle cx="1282" cy="1265.1" r="10.58" fill="#d1d1d1" stroke="#000" stroke-width="1.45"/>
<circle cx="1290.4" cy="1264.4" r="10.58" fill="#d1d1d1" stroke="#000" stroke-width="1.45"/>
<circle cx="1300.6" cy="1264.4" r="10.58" fill="#d1d1d1" stroke="#000" stroke-width="1.45"/>
<polygon points="1316.32,1251.36 1337.28,1251.36 1326.8,1230.4" fill="#c6dcf8" stroke="#000" stroke-width="1.45" stroke-linejoin="miter" stroke-miterlimit="10"/>
<polygon points="1325.42,1241.86 1346.38,1241.86 1335.9,1220.9" fill="#c6dcf8" stroke="#000" stroke-width="1.45" stroke-linejoin="miter" stroke-miterlimit="10"/>
<polygon points="1334.82,1241.86 1355.78,1241.86 1345.3,1220.9" fill="#c6dcf8" stroke="#000" stroke-width="1.45" stroke-linejoin="miter" stroke-miterlimit="10"/>
<text transform="translate(1323.4 1311.9) rotate(-45) scale(0.9754 1)" x="-106.4" font-size="28">HT-1080</text>
<line x1="1281.2" y1="1203.7" x2="1342.7" y2="1204.8" stroke="#ee1c25" stroke-width="1.25"/>
<text x="1292.93" y="1200.03" font-size="31.5" letter-spacing="3.07" stroke="#000" stroke-width="0.2">***</text>
<g>
<text transform="translate(1259.05 1167.4) scale(0.8006 1)" font-size="23"><tspan font-style="italic">P</tspan></text>
<text transform="translate(1277.69 1167.4) scale(0.7889 1)" font-size="23">=</text>
<text transform="translate(1294.91 1167.4) scale(1.1803 1)" font-size="23">0.0006</text>
</g>
<circle cx="891.85" cy="770.6" r="11.03" fill="#d1d1d1" stroke="#000" stroke-width="1.45"/>
<polygon points="881.17,827.56 902.53,827.56 891.85,806.2" fill="#c6dcf8" stroke="#000" stroke-width="1.45" stroke-linejoin="miter" stroke-miterlimit="10"/>
<text transform="translate(918.19 783) scale(0.8935 1)" font-size="27">−</text>
<text transform="translate(939.31 781.4) scale(0.9756 1)" font-size="28">DETA NONOate</text>
<text transform="translate(918.19 827.3) scale(0.8935 1)" font-size="27">+</text>
<text transform="translate(939.28 827.9) scale(0.9892 1)" font-size="28">DETA NONOate (100 <tspan font-family="Liberation Serif, serif" stroke="#000" stroke-width="0.2" font-size="105%">μ</tspan>M)</text>
</svg>
</body>
</html>
